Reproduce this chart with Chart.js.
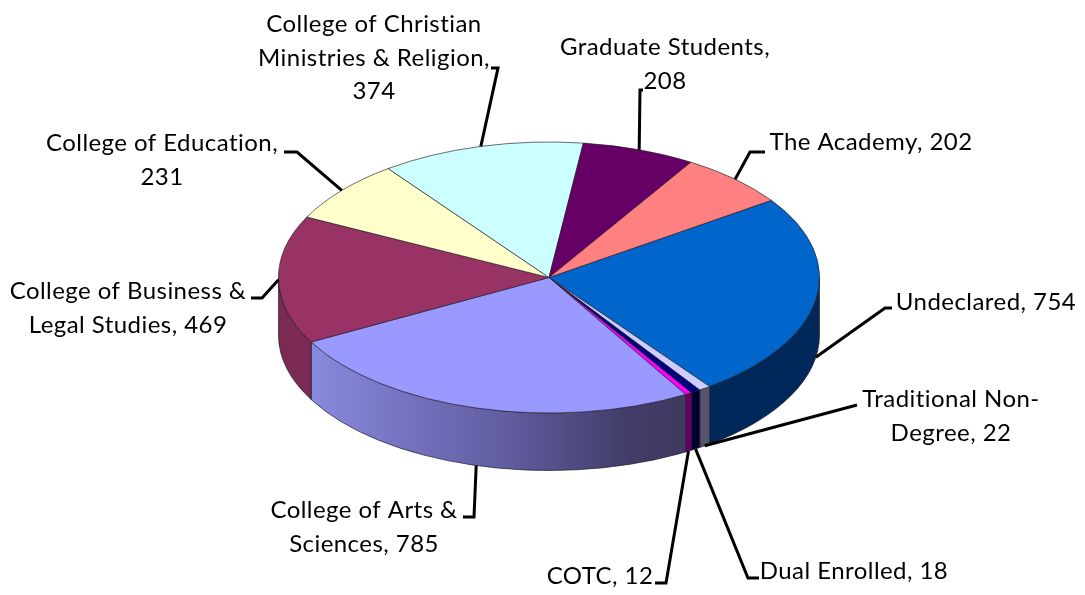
<!DOCTYPE html>
<html><head><meta charset="utf-8">
<style>html,body{margin:0;padding:0;background:#fff}canvas{display:block}</style>
<script src="https://cdn.jsdelivr.net/npm/chart.js@4"></script>
</head><body>
<div style="width:1085px;height:595px"><canvas id="c" width="1085" height="595"></canvas></div>
<script>
const categories = ["Undeclared","Traditional Non-Degree","Dual Enrolled","COTC","College of Arts & Sciences","College of Business & Legal Studies","College of Education","College of Christian Ministries & Religion","Graduate Students","The Academy"];
const values = [754,22,18,12,785,469,231,374,208,202];
const topColors = ["#0066CC","#CCCCFF","#000080","#FF00FF","#9999FF","#993366","#FFFFCC","#CCFFFF","#660066","#FF8080"];
const wallColors = ["#00285A","#55556F","#000033","#660066",null,"#7B2A53","#8a8a66","#668080","#330033","#804040"];
const artsWallStops = [[0,"#8989DE"],[0.5,"#625EA3"],[0.85,"#413D68"],[1,"#3E3A62"]];

// label layout: text lines, text centre x, centre y of first line, elbow path from the slice
const labelLines = [
 ["Undeclared, 754"],
 ["Traditional Non-","Degree, 22"],
 ["Dual Enrolled, 18"],
 ["COTC, 12"],
 ["College of Arts &","Sciences, 785"],
 ["College of Business &","Legal Studies, 469"],
 ["College of Education,","231"],
 ["College of Christian","Ministries & Religion,","374"],
 ["Graduate Students,","208"],
 ["The Academy, 202"]
];
const labelX = [986,951,854,600,364,128,162,374,665,871];
const labelY = [302,399,571,576,510,291,143,24,47,142];
const leaderElbows = [
 [[885,308],[892,308]],
 [[857,405]],
 [[748,578],[759,578]],
 [[666,583],[655,583]],
 [[474,517],[463,517]],
 [[262,298],[251,298]],
 [[297,152],[284,152]],
 [[498,68],[491,68]],
 [[640,90],[643,90]],
 [[750,152],[765,152]]
];
const onWall = [true,true,true,true,true,false,false,false,false,false];

const CY = 277.5, RY = 135.5, DEPTH = 57.5;
const EDGE = "rgba(30,25,35,0.85)";

const pie3d = {
 id:"pie3d",
 beforeDatasetsDraw(chart){
  const ctx = chart.ctx, arcs = chart.getDatasetMeta(0).data;
  const el0 = arcs[0], rx = el0.outerRadius, TAU = Math.PI*2;
  const drawWall = (a0,a1,fill) => {
    ctx.beginPath();
    ctx.ellipse(el0.x,CY,rx,RY,0,a0,a1,false);
    ctx.ellipse(el0.x,CY+DEPTH,rx,RY,0,a1,a0,true);
    ctx.closePath();
    ctx.fillStyle = fill; ctx.fill();
    ctx.strokeStyle = EDGE; ctx.lineWidth = 0.8; ctx.stroke();
  };
  arcs.forEach((el,i)=>{
    const frontRanges = [[0,Math.PI],[TAU,TAU+Math.PI],[-TAU,-Math.PI]];
    frontRanges.forEach(([lo,hi])=>{
      const a0 = Math.max(el.startAngle,lo), a1 = Math.min(el.endAngle,hi);
      if(a1<=a0) return;
      let fill = wallColors[i];
      if(!fill){
        const x0 = el0.x+rx*Math.cos(a1), x1 = el0.x+rx*Math.cos(a0);
        fill = ctx.createLinearGradient(x0,0,x1,0);
        artsWallStops.forEach(s=>fill.addColorStop(s[0],s[1]));
      }
      drawWall(a0,a1,fill);
    });
  });
  ctx.save();
  ctx.translate(0,CY);
  ctx.scale(1,RY/rx);
  ctx.translate(0,-el0.y);
 },
 afterDatasetsDraw(chart){
  const ctx = chart.ctx, arcs = chart.getDatasetMeta(0).data;
  ctx.restore();
  const rx = arcs[0].outerRadius;
  ctx.strokeStyle="#000"; ctx.lineWidth=3; ctx.lineJoin="miter";
  arcs.forEach((el,i)=>{
    const m=(el.startAngle+el.endAngle)/2;
    const x=arcs[0].x+rx*Math.cos(m), y=CY+RY*Math.sin(m)+(onWall[i]?DEPTH:0);
    ctx.beginPath(); ctx.moveTo(x,y);
    leaderElbows[i].forEach(p=>ctx.lineTo(p[0],p[1]));
    ctx.stroke();
  });
  ctx.fillStyle="#000"; ctx.font='24px Lato, "Open Sans", sans-serif';
  ctx.letterSpacing="0.45px";
  ctx.textAlign="center"; ctx.textBaseline="middle";
  labelLines.forEach((lines,i)=>lines.forEach((t,j)=>ctx.fillText(t,labelX[i],labelY[i]+0.5+j*33.5)));
 }
};

new Chart(document.getElementById("c"),{
 type:"pie",
 data:{labels:categories,datasets:[{data:values,backgroundColor:topColors,borderColor:EDGE,borderWidth:1,clip:false}]},
 options:{
  responsive:false,animation:false,events:[],rotation:55.3,
  layout:{padding:{left:278,right:265,top:26.5,bottom:26.5}},
  plugins:{legend:{display:false},tooltip:{enabled:false},title:{display:false}}
 },
 plugins:[pie3d]
});
</script>
</body></html>
